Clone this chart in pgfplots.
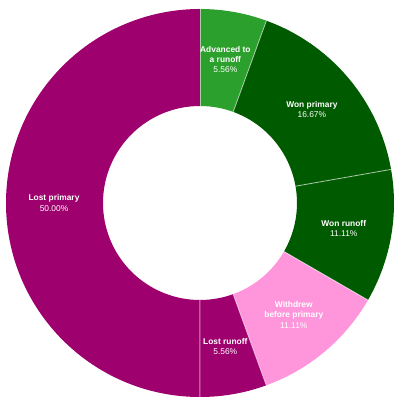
\documentclass[border=0pt]{standalone}
\usepackage{fontspec}
\setmainfont{Liberation Sans}
\usepackage{pgfplots}
\pgfplotsset{compat=1.18}
\definecolor{cAdv}{HTML}{2CA02C}
\definecolor{cWon}{HTML}{005A00}
\definecolor{cPink}{HTML}{FF96DC}
\definecolor{cLost}{HTML}{9E006E}
\begin{document}
\begin{tikzpicture}
\begin{axis}[hide axis, scale only axis, width=400pt, height=402pt,
  xmin=-200, xmax=200, ymin=-199, ymax=203, clip=false]
\path (axis cs:-200,-199) rectangle (axis cs:200,203);
\gdef\startangle{90}
\foreach \v/\c/\lab in {
  5.56/cAdv/{Advanced to\\a runoff},
  16.67/cWon/{Won primary},
  11.11/cWon/{Won runoff},
  11.11/cPink/{Withdrew\\before primary},
  5.56/cLost/{Lost runoff},
  50.00/cLost/{Lost primary}}{
  \pgfmathsetmacro\a{\startangle}
  \pgfmathsetmacro\b{\startangle-3.6*\v}
  \pgfmathsetmacro\m{(\a+\b)/2}
  \pgfmathsetmacro\xa{194*cos(\a)}
  \pgfmathsetmacro\ya{194*sin(\a)}
  \pgfmathsetmacro\xb{97*cos(\b)}
  \pgfmathsetmacro\yb{97*sin(\b)}
  \pgfmathsetmacro\xl{146*cos(\m)}
  \pgfmathsetmacro\yl{146*sin(\m)}
  \edef\temp{\noexpand\fill[\c] (axis cs:\xa,\ya) arc[start angle=\a, end angle=\b, radius=194pt] -- (axis cs:\xb,\yb) arc[start angle=\b, end angle=\a, radius=97pt] -- cycle;}
  \temp
  \edef\temp{\noexpand\node[text=white, align=center, font=\noexpand\fontsize{8.4}{10.2}\noexpand\selectfont\noexpand\bfseries, inner sep=0pt] at (axis cs:\xl,\yl) {\unexpanded\expandafter{\lab}\noexpand\\\noexpand\mdseries\v\noexpand\%};}
  \temp
  \xdef\startangle{\b}
}
% separators
\gdef\startangle{90}
\foreach \v in {5.56,16.67,11.11,11.11,5.56,50.00}{
  \pgfmathsetmacro\a{\startangle}
  \pgfmathsetmacro\xo{194*cos(\a)}
  \pgfmathsetmacro\yo{194*sin(\a)}
  \pgfmathsetmacro\xi{97*cos(\a)}
  \pgfmathsetmacro\yi{97*sin(\a)}
  \edef\temp{\noexpand\draw[white, opacity=0.55, line width=0.9pt] (axis cs:\xi,\yi) -- (axis cs:\xo,\yo);}
  \temp
  \pgfmathsetmacro\b{\startangle-3.6*\v}
  \xdef\startangle{\b}
}
\end{axis}
\end{tikzpicture}
\end{document}
